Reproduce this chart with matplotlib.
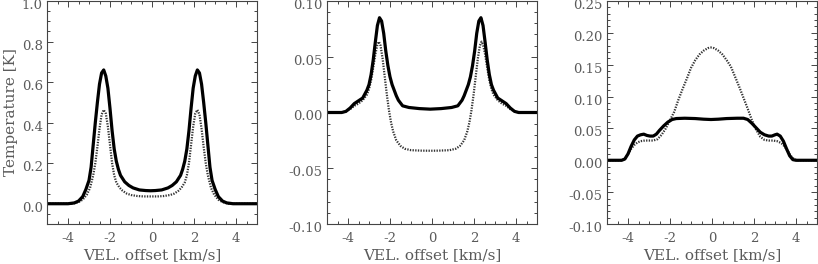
import matplotlib.pyplot as plt
from matplotlib.ticker import MultipleLocator
from matplotlib.transforms import ScaledTranslation

# panel 1
x1_solid = [-5.0, -4.0, -3.7, -3.5, -3.3, -3.15, -3.0, -2.9, -2.8, -2.7, -2.6, -2.5, -2.4, -2.3,
            -2.2, -2.1, -2.0, -1.9, -1.8, -1.7, -1.6, -1.5, -1.3, -1.1, -0.9, -0.6, -0.3, -0.07,
            0.16, 0.46, 0.76, 0.96, 1.16, 1.36, 1.46, 1.56, 1.66, 1.76, 1.86, 1.96, 2.06, 2.16,
            2.26, 2.36, 2.46, 2.56, 2.66, 2.76, 2.86, 3.01, 3.16, 3.36, 3.56, 3.86, 5.0]
y1_solid = [0.0, 0.0, 0.004, 0.013, 0.035, 0.07, 0.115, 0.18, 0.29, 0.40, 0.50, 0.59, 0.645, 0.66,
            0.63, 0.57, 0.47, 0.36, 0.27, 0.21, 0.17, 0.14, 0.108, 0.09, 0.078, 0.068, 0.065, 0.064,
            0.065, 0.068, 0.078, 0.09, 0.108, 0.14, 0.17, 0.21, 0.27, 0.36, 0.47, 0.57, 0.63, 0.66,
            0.645, 0.59, 0.50, 0.40, 0.29, 0.18, 0.115, 0.07, 0.035, 0.013, 0.004, 0.0, 0.0]
x1_dot = [-5.0, -3.8, -3.5, -3.3, -3.1, -2.95, -2.8, -2.7, -2.6, -2.5, -2.4, -2.3, -2.2, -2.1,
          -2.0, -1.9, -1.8, -1.7, -1.55, -1.4, -1.2, -1.0, -0.7, -0.4, -0.07,
          0.26, 0.56, 0.86, 1.06, 1.26, 1.41, 1.56, 1.66, 1.76, 1.86, 1.96, 2.06, 2.16,
          2.26, 2.36, 2.46, 2.56, 2.66, 2.81, 2.96, 3.16, 3.36, 3.66, 5.0]
y1_dot = [0.0, 0.0, 0.008, 0.02, 0.045, 0.078, 0.14, 0.20, 0.28, 0.37, 0.44, 0.463, 0.445, 0.38,
          0.29, 0.20, 0.14, 0.105, 0.08, 0.064, 0.05, 0.043, 0.038, 0.036, 0.036,
          0.036, 0.038, 0.043, 0.05, 0.064, 0.08, 0.105, 0.14, 0.20, 0.29, 0.38, 0.445, 0.463,
          0.44, 0.37, 0.28, 0.20, 0.14, 0.078, 0.045, 0.02, 0.008, 0.0, 0.0]

# panel 2
x2_solid = [-5.0, -4.3, -4.1, -3.9, -3.7, -3.5, -3.3, -3.1, -3.0, -2.9, -2.8, -2.7, -2.6, -2.5,
            -2.4, -2.3, -2.2, -2.1, -2.0, -1.9, -1.8, -1.7, -1.6, -1.4, -1.1, -0.6, -0.085,
            0.43, 0.93, 1.23, 1.43, 1.53, 1.63, 1.73, 1.83, 1.93, 2.03, 2.13, 2.23, 2.33,
            2.43, 2.53, 2.63, 2.73, 2.83, 2.93, 3.13, 3.33, 3.53, 3.73, 3.93, 4.13, 5.0]
y2_solid = [0.0, 0.0, 0.001, 0.004, 0.008, 0.0105, 0.013, 0.02, 0.025, 0.034, 0.047, 0.063, 0.078, 0.085,
            0.082, 0.071, 0.055, 0.042, 0.032, 0.025, 0.020, 0.015, 0.011, 0.006, 0.0045, 0.0035, 0.003,
            0.0035, 0.0045, 0.006, 0.011, 0.015, 0.020, 0.025, 0.032, 0.042, 0.055, 0.071, 0.082, 0.085,
            0.078, 0.063, 0.047, 0.034, 0.025, 0.02, 0.013, 0.0105, 0.008, 0.004, 0.001, 0.0, 0.0]
x2_dot = [-5.0, -4.3, -4.1, -3.9, -3.7, -3.5, -3.3, -3.1, -3.0, -2.9, -2.8, -2.7, -2.6, -2.53,
          -2.45, -2.35, -2.25, -2.15, -2.05, -1.95, -1.85, -1.7, -1.5, -1.3, -1.0, -0.5, -0.085,
          0.33, 0.83, 1.13, 1.33, 1.53, 1.68, 1.78, 1.88, 1.98, 2.08, 2.18, 2.28, 2.36,
          2.43, 2.53, 2.63, 2.73, 2.83, 2.93, 3.13, 3.33, 3.53, 3.73, 3.93, 4.13, 5.0]
y2_dot = [0.0, 0.0, 0.001, 0.003, 0.006, 0.008, 0.011, 0.016, 0.021, 0.029, 0.040, 0.052, 0.061, 0.0635,
          0.060, 0.048, 0.032, 0.016, 0.002, -0.009, -0.017, -0.025, -0.030, -0.0325, -0.0338, -0.0342, -0.0343,
          -0.0342, -0.0338, -0.0325, -0.030, -0.025, -0.017, -0.009, 0.002, 0.016, 0.032, 0.048, 0.060, 0.0635,
          0.061, 0.052, 0.040, 0.029, 0.021, 0.016, 0.011, 0.008, 0.006, 0.003, 0.001, 0.0, 0.0]

# panel 3
x3_solid = [-5.0, -4.3, -4.15, -4.0, -3.85, -3.7, -3.55, -3.4, -3.25, -3.1, -2.95, -2.8, -2.65, -2.5,
            -2.3, -2.1, -1.9, -1.7, -1.3, -0.8, -0.4, -0.05, 0.3, 0.7, 1.2, 1.5, 1.7, 1.9,
            2.1, 2.3, 2.5, 2.7, 2.85, 3.0, 3.1, 3.25, 3.4, 3.55, 3.7, 3.85, 4.0, 5.0]
y3_solid = [0.0, 0.0, 0.002, 0.010, 0.022, 0.032, 0.038, 0.040, 0.041, 0.039, 0.038, 0.038, 0.041, 0.047,
            0.054, 0.060, 0.064, 0.0655, 0.066, 0.0655, 0.0645, 0.064, 0.0645, 0.0655, 0.066, 0.066, 0.064, 0.058,
            0.051, 0.044, 0.040, 0.038, 0.038, 0.040, 0.041, 0.038, 0.030, 0.018, 0.007, 0.001, 0.0, 0.0]
x3_dot = [-5.0, -4.3, -4.15, -4.0, -3.85, -3.7, -3.55, -3.4, -3.2, -3.0, -2.8, -2.6, -2.4, -2.2,
          -2.0, -1.8, -1.6, -1.4, -1.2, -1.0, -0.8, -0.6, -0.4, -0.2, -0.05, 0.1, 0.3, 0.5,
          0.7, 0.9, 1.1, 1.3, 1.5, 1.7, 1.9, 2.1, 2.3, 2.5, 2.7, 2.9, 3.1, 3.3, 3.45,
          3.6, 3.75, 3.9, 4.05, 5.0]
y3_dot = [0.0, 0.0, 0.002, 0.010, 0.018, 0.024, 0.028, 0.030, 0.031, 0.031, 0.031, 0.033, 0.040, 0.050,
          0.063, 0.076, 0.095, 0.112, 0.128, 0.145, 0.157, 0.166, 0.172, 0.176, 0.177, 0.176, 0.172, 0.166,
          0.157, 0.147, 0.131, 0.115, 0.098, 0.081, 0.063, 0.048, 0.037, 0.032, 0.031, 0.031, 0.030, 0.027, 0.022,
          0.015, 0.007, 0.002, 0.0, 0.0]

panels = [
    (x1_solid, y1_solid, x1_dot, y1_dot, (-0.1, 1.0), 0.2, 0.05, '%.1f'),
    (x2_solid, y2_solid, x2_dot, y2_dot, (-0.1, 0.1), 0.05, 0.01, '%.2f'),
    (x3_solid, y3_solid, x3_dot, y3_dot, (-0.1, 0.25), 0.05, 0.01, '%.2f'),
]
lefts = [47, 327, 607]

plt.rcParams['font.family'] = 'DejaVu Serif'
plt.rcParams['axes.unicode_minus'] = True
txt = '#5a5a5a'

fig = plt.figure(figsize=(8.18, 2.64), dpi=100)
shift = ScaledTranslation(0, -3 / 100, fig.dpi_scale_trans)

for i, (xs, ys, xd, yd, ylim, major, minor, fmt) in enumerate(panels):
    ax = fig.add_axes([lefts[i] / 818, 40 / 264, 210 / 818, 223 / 264])
    ax.plot(xd, yd, color='#333333', lw=1.6, linestyle=(0, (0.6, 0.6)))
    ax.plot(xs, ys, color='black', lw=2.3, solid_joinstyle='round')
    ax.set_xlim(-5, 5)
    ax.set_ylim(*ylim)
    ax.xaxis.set_major_locator(MultipleLocator(2))
    ax.xaxis.set_minor_locator(MultipleLocator(0.5))
    ax.yaxis.set_major_locator(MultipleLocator(major))
    ax.yaxis.set_minor_locator(MultipleLocator(minor))
    ax.yaxis.set_major_formatter(plt.FormatStrFormatter(fmt))
    ax.xaxis.set_major_formatter(plt.FormatStrFormatter('%d'))
    ax.tick_params(which='both', direction='in', top=True, right=True,
                   labelsize=9.5, labelcolor=txt, color='#444444', width=0.7)
    ax.tick_params(which='major', length=4.5)
    ax.tick_params(axis='y', which='major', pad=3)
    ax.tick_params(axis='x', which='major', pad=6)
    ax.tick_params(which='minor', length=2.2)
    for lab in ax.get_yticklabels():
        lab.set_transform(lab.get_transform() + shift)
    for sp in ax.spines.values():
        sp.set_linewidth(0.8)
        sp.set_color('#444444')
    ax.set_xlabel('VEL. offset [km/s]', fontsize=11, color=txt, labelpad=2)
    if i == 0:
        ax.set_ylabel('Temperature [K]', fontsize=11, color=txt, labelpad=3)

fig.savefig('out.png', dpi=100)
